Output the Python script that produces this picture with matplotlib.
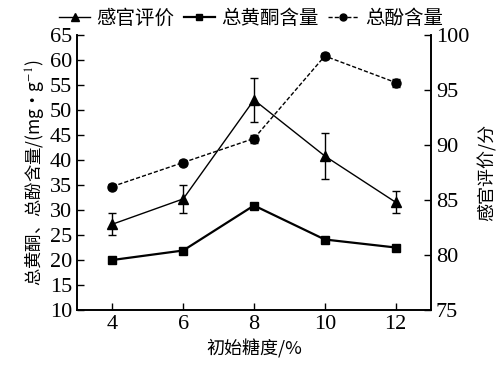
import matplotlib
matplotlib.use('Agg')
import matplotlib.pyplot as plt
from matplotlib.lines import Line2D

plt.rcParams['font.family'] = ['Liberation Serif', 'Noto Sans CJK SC']
plt.rcParams['mathtext.fontset'] = 'stix'

sugar = [4, 6, 8, 10, 12]
# 感官评价 (right axis)
sensory = [82.8, 85.1, 94.1, 89.0, 84.8]
sensory_err = [1.0, 1.3, 2.0, 2.1, 1.0]
# 总黄酮含量 (left axis)
flavone = [20.0, 21.9, 30.9, 24.1, 22.5]
flavone_err = [0.3, 0.3, 0.4, 0.3, 0.3]
# 总酚含量 (left axis)
phenol = [34.7, 39.5, 44.3, 60.8, 55.5]
phenol_err = [0.5, 0.5, 0.8, 0.6, 0.8]

cjk = ['Noto Sans CJK SC', 'DejaVu Sans']
dash = (0, (3, 1.5))

fig = plt.figure(figsize=(5.02, 3.79), dpi=100)
ax = fig.add_axes([77/502, 1-310/379, (431-77)/502, (310-35)/379])
ax2 = ax.twinx()

ax.errorbar(sugar, flavone, yerr=flavone_err, color='black', marker='s', ms=6,
            lw=1.6, capsize=3, elinewidth=1)
ax.errorbar(sugar, phenol, yerr=phenol_err, color='black', marker='o', ms=6.5,
            lw=1, ls=dash, capsize=3, elinewidth=1)
ax2.errorbar(sugar, sensory, yerr=sensory_err, color='black', marker='^', ms=7.5,
             lw=1, capsize=3, elinewidth=1)

ax.set_xlim(3, 13)
ax.set_ylim(10, 65)
ax.set_yticks(range(10, 66, 5))
ax.set_xticks(sugar)
ax2.set_ylim(75, 100)
ax2.set_yticks(range(75, 101, 5))

for a in (ax, ax2):
    a.spines['top'].set_visible(False)
    a.tick_params(direction='in', labelsize=16, length=5, width=1)
    for s in a.spines.values():
        s.set_linewidth(1.2)

ax.set_xlabel('初始糖度/%', fontsize=13, family=cjk, labelpad=4)
ax.set_ylabel('总黄酮、总酚含量/(mg•g$^{-1}$)', fontsize=12.5, family=cjk, labelpad=3)
ax2.set_ylabel('感官评价/分', fontsize=13, family=cjk, labelpad=6)

h1 = Line2D([], [], color='black', marker='^', ms=6, lw=1)
h2 = Line2D([], [], color='black', marker='s', ms=5, lw=1.6)
h3 = Line2D([], [], color='black', marker='o', ms=5, lw=1, ls=dash)
fig.legend(handles=[h1, h2, h3], labels=['感官评价', '总黄酮含量', '总酚含量'],
           loc='upper center', bbox_to_anchor=(0.5, 1.025), ncol=3, frameon=False,
           prop={'family': cjk, 'size': 14}, handlelength=1.6, handletextpad=0.3,
           columnspacing=0.5)

fig.savefig('out.png', dpi=100)
